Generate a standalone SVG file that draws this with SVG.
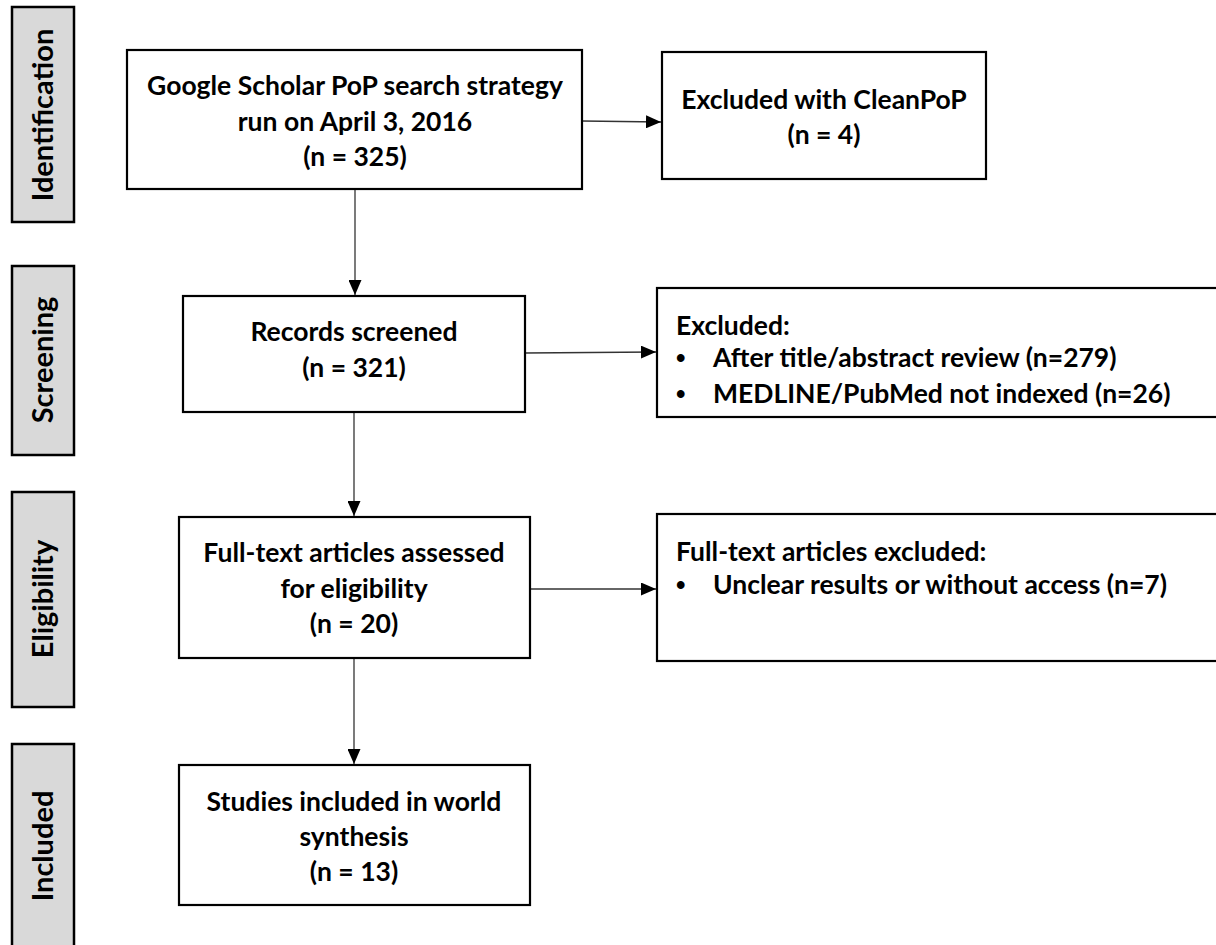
<svg xmlns="http://www.w3.org/2000/svg" width="1216" height="945" viewBox="0 0 1216 945">
<defs>
<style>
.box{fill:#fff;stroke:#000;stroke-width:2.2}
.side{fill:#d9d9d9;stroke:#000;stroke-width:2.5}
.t{font-family:Lato,"Liberation Sans",sans-serif;font-weight:bold;font-size:26.5px;fill:#000}
.b{font-family:"Liberation Sans",sans-serif;font-weight:bold;font-size:27px;fill:#000}
.c{text-anchor:middle}
.st{font-family:Lato,"Liberation Sans",sans-serif;font-weight:bold;font-size:29px;fill:#000;text-anchor:middle}
.ln{stroke:#333;stroke-width:1.3;fill:none;marker-end:url(#ah)}
</style>
<marker id="ah" viewBox="0 0 15 13" refX="15" refY="6.5" markerWidth="15" markerHeight="13" markerUnits="userSpaceOnUse" orient="auto">
<path d="M0,0 L15,6.5 L0,13 Z" fill="#000"/>
</marker>
</defs>
<rect width="1216" height="945" fill="#fff"/>
<g id="side-identification"><rect class="side" x="12" y="7" width="62" height="215"/><text class="st" transform="translate(53,115) rotate(-90)">Identification</text></g>
<g id="side-screening"><rect class="side" x="12" y="266" width="62" height="189"/><text class="st" transform="translate(53,360) rotate(-90)">Screening</text></g>
<g id="side-eligibility"><rect class="side" x="12" y="492" width="62" height="215"/><text class="st" transform="translate(53,599) rotate(-90)">Eligibility</text></g>
<g id="side-included"><rect class="side" x="12" y="744" width="62" height="215"/><text class="st" transform="translate(53,846) rotate(-90)">Included</text></g>
<g id="connectors">
<line class="ln" x1="582" y1="121" x2="661" y2="122"/>
<line class="ln" x1="355" y1="189" x2="355" y2="295"/>
<line class="ln" x1="525" y1="353" x2="656" y2="352"/>
<line class="ln" x1="354" y1="412" x2="354" y2="516"/>
<line class="ln" x1="530" y1="589" x2="656" y2="589"/>
<line class="ln" x1="354" y1="658" x2="354" y2="764"/>
</g>
<g id="n1"><rect class="box" x="127" y="50" width="455" height="139"/>
<text class="t c" x="355" y="95">Google Scholar PoP search strategy</text>
<text class="t c" x="355" y="131">run on April 3, 2016</text>
<text class="t c" x="355" y="166">(n = 325)</text></g>
<g id="n2"><rect class="box" x="662" y="52" width="324" height="127"/>
<text class="t c" x="824" y="109">Excluded with CleanPoP</text>
<text class="t c" x="824" y="144">(n = 4)</text></g>
<g id="n3"><rect class="box" x="183" y="296" width="342" height="116"/>
<text class="t c" x="354" y="341">Records screened</text>
<text class="t c" x="354" y="377">(n = 321)</text></g>
<g id="n4"><rect class="box" x="657" y="288" width="570" height="129"/>
<text class="t" x="676" y="335">Excluded:</text>
<text class="b" x="676" y="367">•</text><text class="t" x="713" y="367">After title/abstract review (n=279)</text>
<text class="b" x="676" y="403">•</text><text class="t" x="713" y="403">MEDLINE/PubMed not indexed (n=26)</text></g>
<g id="n5"><rect class="box" x="179" y="517" width="351" height="141"/>
<text class="t c" x="354" y="562">Full-text articles assessed</text>
<text class="t c" x="354" y="598">for eligibility</text>
<text class="t c" x="354" y="633">(n = 20)</text></g>
<g id="n6"><rect class="box" x="657" y="514" width="570" height="147"/>
<text class="t" x="676" y="561">Full-text articles excluded:</text>
<text class="b" x="676" y="594">•</text><text class="t" x="713" y="594">Unclear results or without access (n=7)</text></g>
<g id="n7"><rect class="box" x="179" y="765" width="351" height="140"/>
<text class="t c" x="354" y="811">Studies included in world</text>
<text class="t c" x="354" y="846">synthesis</text>
<text class="t c" x="354" y="881">(n = 13)</text></g>
</svg>
